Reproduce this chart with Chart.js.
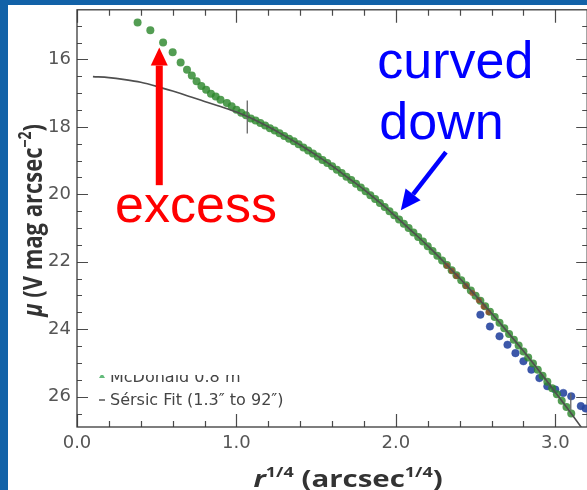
<!DOCTYPE html>
<html>
<head>
<meta charset="utf-8">
<script src="https://cdn.jsdelivr.net/npm/chart.js@4/dist/chart.umd.min.js"></script>
<style>
  html, body { margin: 0; padding: 0; background: #1262a8; overflow: hidden; width: 587px; height: 490px; }
  #panel { position: absolute; left: 8px; top: 5px; width: 584px; height: 485px; background: #ffffff; }
  canvas { display: block; }
</style>
</head>
<body>
<div id="panel"><canvas id="profile" width="584" height="485"></canvas></div>
<script>
// Surface-brightness profile: mu (V mag / arcsec^2) against r^(1/4)

// McDonald 0.8 m measurements
const mcdX = [0.38,0.46,0.54,0.60,0.65,0.69,0.72,0.75,0.78,0.81,0.84,0.87,0.90,0.94,0.97,
  1.00,1.03,1.06,1.09,1.12,1.15,1.18,1.21,1.24,1.27,1.30,1.33,1.36,1.39,1.42,1.45,1.48,
  1.51,1.54,1.57,1.60,1.63,1.66,1.69,1.72,1.75,1.78,1.81,1.84,1.87,1.90,1.93,1.96,1.99,
  2.02,2.05,2.08,2.11,2.14,2.17,2.20,2.23,2.26,2.29,2.32,2.35,2.38,2.41,2.44,2.47,2.50,
  2.53,2.56,2.59,2.62,2.65,2.68,2.71,2.74,2.77,2.80,2.83,2.86,2.89,2.92,2.95,2.98,3.01,
  3.04,3.07,3.10];
const mcdY = [14.91,15.14,15.50,15.79,16.09,16.31,16.48,16.65,16.79,16.90,17.02,17.10,17.20,17.29,17.39,
  17.49,17.58,17.66,17.75,17.81,17.89,17.96,18.04,18.11,18.19,18.27,18.35,18.43,18.52,18.61,18.70,18.79,
  18.88,18.98,19.07,19.17,19.27,19.37,19.48,19.58,19.69,19.80,19.91,20.03,20.14,20.26,20.38,20.50,20.62,
  20.75,20.87,21.00,21.13,21.27,21.40,21.54,21.68,21.82,21.96,22.10,22.25,22.40,22.55,22.70,22.85,23.01,
  23.16,23.32,23.48,23.64,23.81,23.97,24.14,24.31,24.48,24.66,24.84,25.02,25.20,25.38,25.56,25.75,25.93,
  26.12,26.31,26.50];

// Second set of outer-profile points (red-brown)
const redX = [2.32,2.35,2.38,2.44,2.48,2.52,2.55,2.58];
const redY = [22.12,22.27,22.42,22.72,22.93,23.14,23.33,23.50];

// Deep outer-profile points (blue)
const blueX = [2.53,2.59,2.65,2.70,2.75,2.80,2.85,2.90,2.95,3.00,3.05,3.10,3.16,3.19];
const blueY = [23.57,23.92,24.21,24.46,24.71,24.95,25.20,25.45,25.69,25.79,25.89,25.99,26.28,26.35];

// Sersic fit curve (fitted between 1.3" and 92")
const fitX = [0.1,0.2,0.3,0.4,0.5,0.6,0.7,0.8,0.9,1.0,1.1,1.2,1.3,1.4,1.5,1.6,1.7,1.8,1.9,2.0,
  2.1,2.2,2.3,2.4,2.5,2.6,2.7,2.8,2.9,3.0,3.1,3.2];
const fitY = [16.51,16.54,16.60,16.68,16.80,16.94,17.09,17.25,17.40,17.56,17.76,18.00,18.26,18.54,18.84,19.16,
  19.51,19.86,20.25,20.66,21.09,21.53,22.00,22.49,23.00,23.53,24.08,24.65,25.25,25.87,26.50,27.15];

// Fit-range limits: 1.3" and 92" in r^(1/4)
const rangeX = [1.068, 3.097];
const rangeTop = [17.22, 25.90];
const rangeBottom = [18.20, 26.40];

// Axis ticks
const xTickValues = [0, 1, 2, 3];
const xTickLabels = ['0.0', '1.0', '2.0', '3.0'];
const yTickValues = [16, 18, 20, 22, 24, 26];
const yTickLabels = ['16', '18', '20', '22', '24', '26'];

// Legend entries
const legendLabels = ['McDonald 0.8 m', 'S\u00e9rsic Fit (1.3\u2033 to 92\u2033)'];

const pts = (xs, ys) => xs.map((x, i) => ({ x: x, y: ys[i] }));

// Frame with inward ticks on all four sides
const framePlugin = {
  id: 'frame',
  beforeDatasetsDraw(chart) {
    const { ctx, chartArea: a, scales: { x, y } } = chart;
    ctx.save();
    ctx.strokeStyle = '#4a4a4a';
    ctx.lineWidth = 1.2;
    ctx.beginPath();
    for (let k = 0; k <= 16; k++) {
      const px = Math.round(x.getPixelForValue(k * 0.2)) + 0.5;
      if (px < a.left || px > a.right) continue;
      const len = (k % 5 === 0) ? 13 : 6;
      ctx.moveTo(px, a.bottom); ctx.lineTo(px, a.bottom - len);
      ctx.moveTo(px, a.top); ctx.lineTo(px, a.top + len);
    }
    for (let k = 29; k <= 53; k++) {
      const v = k * 0.5;
      const py = Math.round(y.getPixelForValue(v)) + 0.5;
      if (py < a.top || py > a.bottom) continue;
      const len = (v % 2 === 0) ? 11 : 5;
      ctx.moveTo(a.left, py); ctx.lineTo(a.left + len, py);
      ctx.moveTo(a.right, py); ctx.lineTo(a.right - len, py);
    }
    ctx.stroke();
    ctx.strokeStyle = '#3a3a3a';
    ctx.lineWidth = 1.3;
    ctx.strokeRect(a.left, a.top, a.right - a.left, a.bottom - a.top);
    ctx.restore();
  }
};

function drawRuns(ctx, runs, cx, baseY) {
  let w = 0;
  runs.forEach(r => { ctx.font = r.font; r.w = ctx.measureText(r.text).width; w += r.w; });
  let xx = cx - w / 2;
  ctx.textAlign = 'left';
  ctx.textBaseline = 'alphabetic';
  runs.forEach(r => { ctx.font = r.font; ctx.fillText(r.text, xx, baseY + (r.dy || 0)); xx += r.w; });
}

function drawArrow(ctx, x1, y1, x2, y2, shaft, headLen, headW, color) {
  const ang = Math.atan2(y2 - y1, x2 - x1);
  const bx = x2 - headLen * Math.cos(ang), by = y2 - headLen * Math.sin(ang);
  ctx.save();
  ctx.strokeStyle = color; ctx.fillStyle = color;
  ctx.lineWidth = shaft; ctx.lineCap = 'butt';
  ctx.beginPath(); ctx.moveTo(x1, y1); ctx.lineTo(bx, by); ctx.stroke();
  const nx = -Math.sin(ang), ny = Math.cos(ang);
  ctx.beginPath();
  ctx.moveTo(x2, y2);
  ctx.lineTo(bx + nx * headW / 2, by + ny * headW / 2);
  ctx.lineTo(bx - nx * headW / 2, by - ny * headW / 2);
  ctx.closePath(); ctx.fill();
  ctx.restore();
}

// Titles, legend and the two callouts
const notesPlugin = {
  id: 'notes',
  afterDraw(chart) {
    const { ctx, chartArea: a, scales: { x, y } } = chart;
    const X = v => x.getPixelForValue(v), Y = v => y.getPixelForValue(v);

    // y-axis title
    ctx.save();
    ctx.fillStyle = '#333333';
    ctx.translate(34, (a.top + a.bottom) / 2 + 2);
    ctx.scale(1.22, 1);
    ctx.rotate(-Math.PI / 2);
    drawRuns(ctx, [
      { text: '\u03bc', font: 'italic bold 22px "Open Sans"' },
      { text: ' (V mag arcsec', font: 'bold 22px "Open Sans"' },
      { text: '\u22122', font: 'bold 14px "Open Sans"', dy: -9 },
      { text: ')', font: 'bold 22px "Open Sans"' }
    ], 0, 0);
    ctx.restore();

    // x-axis title
    ctx.save();
    ctx.fillStyle = '#333333';
    ctx.translate((a.left + a.right) / 2 + 16, 482);
    ctx.scale(1.28, 1);
    drawRuns(ctx, [
      { text: 'r', font: 'italic bold 23px "Open Sans"' },
      { text: '1/4', font: 'bold 14px "Open Sans"', dy: -10 },
      { text: ' (arcsec', font: 'bold 23px "Open Sans"' },
      { text: '1/4', font: 'bold 14px "Open Sans"', dy: -10 },
      { text: ')', font: 'bold 23px "Open Sans"' }
    ], 0, 0);
    ctx.restore();

    // legend (lower left, inside the frame)
    ctx.save();
    ctx.font = '16px "DejaVu Sans"';
    ctx.fillStyle = '#444444';
    ctx.textAlign = 'left';
    ctx.textBaseline = 'alphabetic';
    const lx = a.left + 33, row1 = a.bottom - 45, row2 = a.bottom - 22;
    ctx.save();
    ctx.beginPath(); ctx.rect(a.left + 2, row1 - 7, 300, 40); ctx.clip();
    ctx.fillStyle = 'rgba(60,170,90,0.8)';
    ctx.beginPath(); ctx.moveTo(lx - 8, row1 - 9); ctx.lineTo(lx - 11, row1 - 4); ctx.lineTo(lx - 5, row1 - 4); ctx.closePath(); ctx.fill();
    ctx.fillStyle = '#444444';
    ctx.fillText(legendLabels[0], lx, row1);
    ctx.restore();
    ctx.strokeStyle = '#555555'; ctx.lineWidth = 1.5;
    ctx.beginPath(); ctx.moveTo(lx - 11, row2 - 5); ctx.lineTo(lx - 5, row2 - 5); ctx.stroke();
    ctx.fillText(legendLabels[1], lx, row2);
    ctx.restore();

    // "excess" callout
    ctx.save();
    drawArrow(ctx, X(0.516), Y(19.73), X(0.516), Y(15.65), 7, 18, 17, '#ff0000');
    ctx.fillStyle = '#ff0000';
    ctx.font = '52px "Liberation Sans"';
    ctx.textAlign = 'left'; ctx.textBaseline = 'alphabetic';
    ctx.fillText('excess', X(0.239), Y(20.82));
    ctx.restore();

    // "curved down" callout
    ctx.save();
    drawArrow(ctx, X(2.314), Y(18.75), X(2.031), Y(20.47), 4.5, 20, 19, '#0000ff');
    ctx.fillStyle = '#0000ff';
    ctx.font = '52px "Liberation Sans"';
    ctx.textAlign = 'left'; ctx.textBaseline = 'alphabetic';
    ctx.fillText('curved', X(1.883), Y(16.55));
    ctx.fillText('down', X(1.896), Y(18.35));
    ctx.restore();
  }
};

const rangeSets = rangeX.map((rx, i) => ({
  type: 'line',
  data: [{ x: rx, y: rangeTop[i] }, { x: rx, y: rangeBottom[i] }],
  borderColor: '#666666', borderWidth: 1.3, pointRadius: 0, order: 0
}));

new Chart(document.getElementById('profile'), {
  type: 'scatter',
  data: {
    datasets: [
      {
        type: 'line', label: legendLabels[1], data: pts(fitX, fitY),
        borderColor: '#4f4f4f', borderWidth: 1.6, pointRadius: 0,
        cubicInterpolationMode: 'monotone', order: 0
      },
      ...rangeSets,
      {
        label: 'red', data: pts(redX, redY),
        backgroundColor: 'rgba(150,70,40,0.75)', borderWidth: 0, pointRadius: 3, order: 1
      },
      {
        label: legendLabels[0], data: pts(mcdX, mcdY),
        backgroundColor: 'rgba(45,135,45,0.82)', borderWidth: 0, pointRadius: 4, order: 2
      },
      {
        label: 'blue', data: pts(blueX, blueY),
        backgroundColor: 'rgba(40,70,160,0.9)', borderColor: 'rgba(40,70,160,0.5)',
        borderWidth: 0.8, pointRadius: 3.8, order: 3
      }
    ]
  },
  options: {
    responsive: false,
    animation: false,
    devicePixelRatio: 1,
    events: [],
    layout: { padding: { top: 2, right: 3, left: 0, bottom: 0 } },
    plugins: { legend: { display: false }, tooltip: { enabled: false } },
    scales: {
      x: {
        type: 'linear', min: 0, max: 3.2,
        afterBuildTicks: s => { s.ticks = xTickValues.map(v => ({ value: v })); },
        afterFit: s => { s.height = 63; s.paddingLeft = 0; s.paddingRight = 0; },
        grid: { display: false, drawTicks: false },
        border: { display: false },
        ticks: {
          callback: (v, i) => xTickLabels[i],
          font: { family: 'DejaVu Sans', size: 18 }, color: '#555555',
          padding: 6, maxRotation: 0, autoSkip: false
        }
      },
      y: {
        type: 'linear', reverse: true, min: 14.53, max: 26.9,
        afterBuildTicks: s => { s.ticks = yTickValues.map(v => ({ value: v })); },
        afterFit: s => { s.width = 69; s.paddingTop = 0; s.paddingBottom = 0; },
        grid: { display: false, drawTicks: false },
        border: { display: false },
        ticks: {
          callback: (v, i) => yTickLabels[i],
          font: { family: 'DejaVu Sans', size: 18 }, color: '#555555',
          padding: 6, autoSkip: false
        }
      }
    }
  },
  plugins: [framePlugin, notesPlugin]
});
</script>
</body>
</html>
